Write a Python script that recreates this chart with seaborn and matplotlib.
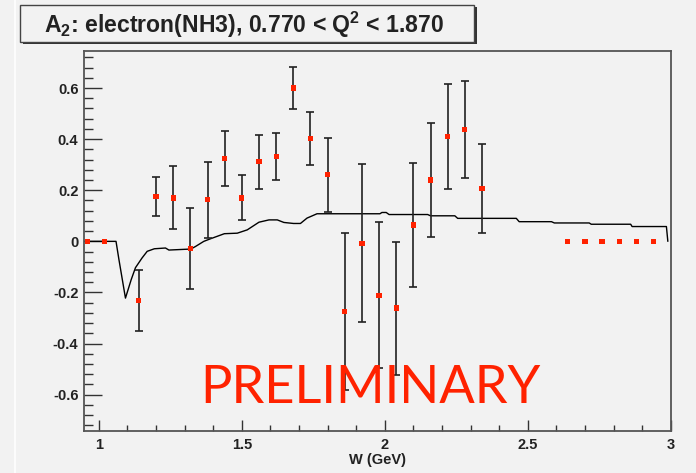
import numpy as np
import pandas as pd
import matplotlib
matplotlib.use("Agg")
import matplotlib.pyplot as plt
from matplotlib.patches import Rectangle
from matplotlib.lines import Line2D
from matplotlib.ticker import MultipleLocator
import seaborn as sns

# ---------------- data ----------------
w_points = [0.96, 1.02, 1.14, 1.20, 1.26, 1.32, 1.38, 1.44, 1.50, 1.56, 1.62,
            1.68, 1.74, 1.80, 1.86, 1.92, 1.98, 2.04, 2.10, 2.16, 2.22, 2.28,
            2.34, 2.64, 2.70, 2.76, 2.82, 2.88, 2.94]
a2_points = [0.0, 0.0, -0.231, 0.176, 0.170, -0.029, 0.163, 0.325, 0.170, 0.311,
             0.333, 0.600, 0.403, 0.261, -0.274, -0.007, -0.211, -0.261, 0.064,
             0.240, 0.410, 0.438, 0.206, 0.0, 0.0, 0.0, 0.0, 0.0, 0.0]
a2_errors = [0.0, 0.0, 0.120, 0.077, 0.123, 0.158, 0.148, 0.107, 0.088, 0.106,
             0.092, 0.083, 0.103, 0.145, 0.306, 0.310, 0.285, 0.260, 0.243,
             0.222, 0.205, 0.190, 0.173, 0.0, 0.0, 0.0, 0.0, 0.0, 0.0]

w_model = [0.948, 1.060, 1.070, 1.093, 1.113, 1.128, 1.151, 1.169, 1.194, 1.233,
           1.245, 1.322, 1.338, 1.367, 1.390, 1.439, 1.484, 1.519, 1.560, 1.595,
           1.624, 1.647, 1.681, 1.705, 1.728, 1.763, 1.983, 1.990, 2.005, 2.015,
           2.150, 2.160, 2.245, 2.255, 2.460, 2.470, 2.583, 2.593, 2.715, 2.722,
           2.860, 2.865, 2.985, 2.990]
a2_model = [0.0, 0.0, -0.070, -0.222, -0.150, -0.103, -0.065, -0.039, -0.029, -0.026,
            -0.034, -0.030, -0.020, 0.0, 0.010, 0.030, 0.032, 0.045, 0.075, 0.084,
            0.084, 0.074, 0.070, 0.070, 0.091, 0.108, 0.108, 0.113, 0.113, 0.105,
            0.105, 0.100, 0.100, 0.090, 0.090, 0.077, 0.077, 0.072, 0.072, 0.067,
            0.067, 0.058, 0.058, 0.0]

x_ticks = [1, 1.5, 2, 2.5, 3]
x_tick_labels = ["1", "1.5", "2", "2.5", "3"]
y_ticks = [-0.6, -0.4, -0.2, 0, 0.2, 0.4, 0.6]
y_tick_labels = ["-0.6", "-0.4", "-0.2", "0", "0.2", "0.4", "0.6"]

title_text = r"A$_2$: electron(NH3), 0.770 < Q$^2$ < 1.870"
x_label = "W (GeV)"
watermark = "PRELIMINARY"

# ---------------- style ----------------
sns.set_theme(style="white")
BG = "#f2f2f2"
plt.rcParams["font.family"] = ["Liberation Sans", "DejaVu Sans"]
plt.rcParams["mathtext.fontset"] = "custom"
plt.rcParams["mathtext.rm"] = "Liberation Sans:bold"
plt.rcParams["mathtext.bf"] = "Liberation Sans:bold"
plt.rcParams["mathtext.default"] = "bf"

fig = plt.figure(figsize=(6.96, 4.73), dpi=100, facecolor=BG)
ax = fig.add_axes([84 / 696, 1 - 431 / 473, (670.7 - 84) / 696, (431 - 50.7) / 473])
ax.set_facecolor(BG)

pts = pd.DataFrame({"W": w_points, "A2": a2_points, "err": a2_errors})
model = pd.DataFrame({"W": w_model, "A2": a2_model})

# model curve
sns.lineplot(data=model, x="W", y="A2", sort=False, estimator=None,
             color="black", linewidth=1.0, ax=ax, zorder=2)

# error bars (only bins with measured errors)
meas = pts[pts["err"] > 0]
ax.errorbar(meas["W"], meas["A2"], yerr=meas["err"], fmt="none",
            ecolor="#222222", elinewidth=1.2, capsize=2.6, capthick=1.2, zorder=3)

# points
sns.scatterplot(data=pts, x="W", y="A2", marker="s", s=14, color="#ff2200",
                edgecolor="none", linewidth=0, ax=ax, zorder=4)

ax.set_xlim(0.948, 3.0)
ax.set_ylim(-0.742, 0.746)

ax.set_xticks(x_ticks)
ax.set_xticklabels(x_tick_labels)
ax.set_yticks(y_ticks)
ax.set_yticklabels(y_tick_labels)
ax.xaxis.set_minor_locator(MultipleLocator(0.1))
ax.yaxis.set_minor_locator(MultipleLocator(0.04))

ax.tick_params(axis="x", which="major", direction="in", length=8, width=1.0,
               color="#333333", pad=5, labelsize=10.5)
ax.tick_params(axis="x", which="minor", direction="in", length=4, width=1.0,
               color="#333333")
ax.tick_params(axis="y", which="major", direction="in", length=13, width=1.0,
               color="#333333", pad=4, labelsize=10.5)
ax.tick_params(axis="y", which="minor", direction="in", length=6.5, width=1.0,
               color="#333333")
ax.tick_params(bottom=True, left=True, top=False, right=False, which="both")
for lab in ax.get_xticklabels() + ax.get_yticklabels():
    lab.set_fontweight("bold")
    lab.set_color("#222222")

for sp in ax.spines.values():
    sp.set_visible(True)
    sp.set_color("#555555")
    sp.set_linewidth(1.3)

ax.set_xlabel(x_label, fontsize=10.5, fontweight="bold", color="#222222", labelpad=1)
ax.set_ylabel("")

# watermark
ax.text(0.489, 0.074, watermark, transform=ax.transAxes, ha="center",
        va="baseline", fontsize=37.8, color="#ff2200",
        family=["Lato", "DejaVu Sans"], zorder=5)

# title box with shadow
bx0, bx1 = 20 / 696, 474 / 696
by0, by1 = 1 - 41.7 / 473, 1 - 5 / 473
shadow = Rectangle((bx0 + 3 / 696, by0 - 2.5 / 473), bx1 - bx0, by1 - by0,
                   transform=fig.transFigure, facecolor="#333333",
                   edgecolor="none", zorder=1)
box = Rectangle((bx0, by0), bx1 - bx0, by1 - by0, transform=fig.transFigure,
                facecolor=BG, edgecolor="#444444", linewidth=1.0, zorder=2)
fig.add_artist(shadow)
fig.add_artist(box)
fig.text((bx0 + bx1) / 2 - 3 / 696, 1 - 33.3 / 473, title_text, ha="center",
         va="baseline", fontsize=16.6, fontweight="bold", color="#222222", zorder=3)

# faint frame line at left
fig.add_artist(Line2D([14.5 / 696, 14.5 / 696], [0, 1], transform=fig.transFigure,
                      color="white", linewidth=1.5, alpha=0.8))

fig.savefig("out.png", dpi=100, facecolor=BG)
